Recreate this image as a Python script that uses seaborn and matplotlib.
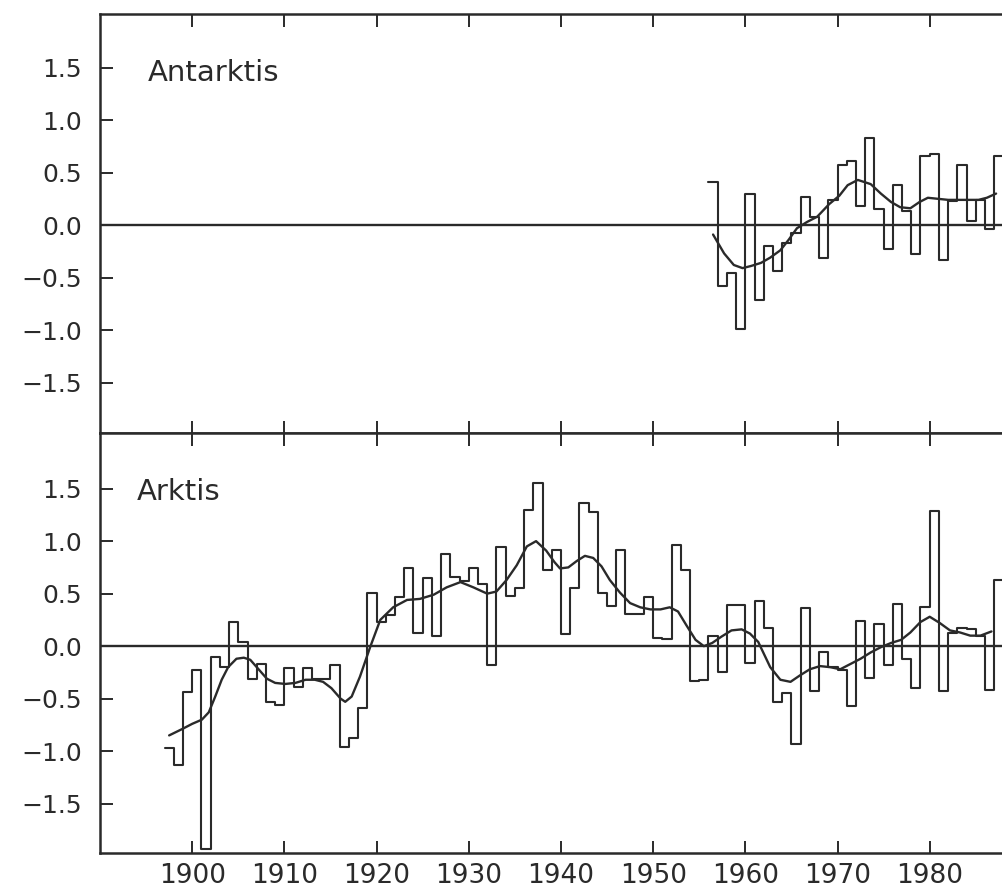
import matplotlib
matplotlib.use("Agg")
import matplotlib.pyplot as plt
import numpy as np
import pandas as pd
import seaborn as sns

# ---------------- data ----------------
ant_years = list(range(1956, 1988))
ant_values = [0.41, -0.58, -0.46, -0.99, 0.30, -0.71, -0.20, -0.44, -0.17, -0.08,
              0.27, 0.08, -0.31, 0.24, 0.57, 0.61, 0.18, 0.83, 0.15, -0.23,
              0.38, 0.13, -0.28, 0.66, 0.68, -0.33, 0.23, 0.57, 0.04, 0.24,
              -0.04, 0.66]

ant_smooth_x = [1956.5, 1957.7, 1958.75, 1959.7, 1960.6, 1961.7, 1962.7, 1963.8, 1964.7,
                1965.6, 1966.7, 1967.8, 1969.1, 1970.2, 1971.1, 1972.2, 1973.6, 1974.7,
                1975.8, 1976.8, 1977.9, 1978.9, 1979.8, 1980.9, 1982.0, 1983.1, 1984.2,
                1985.3, 1986.2, 1987.2]
ant_smooth_y = [-0.09, -0.27, -0.38, -0.41, -0.39, -0.36, -0.31, -0.24, -0.14,
                -0.03, 0.03, 0.08, 0.20, 0.28, 0.38, 0.43, 0.39, 0.30,
                0.22, 0.17, 0.16, 0.22, 0.26, 0.25, 0.24, 0.24, 0.24,
                0.24, 0.26, 0.30]

arc_years = list(range(1897, 1988))
arc_values = [-0.97, -1.13, -0.44, -0.23, -1.93, -0.10, -0.20, 0.23, 0.04, -0.31,
              -0.17, -0.53, -0.56, -0.21, -0.39, -0.21, -0.31, -0.31, -0.18, -0.96,
              -0.87, -0.59, 0.51, 0.23, 0.30, 0.47, 0.74, 0.13, 0.65, 0.10,
              0.88, 0.66, 0.62, 0.74, 0.59, -0.18, 0.94, 0.48, 0.55, 1.30,
              1.55, 0.73, 0.92, 0.12, 0.55, 1.36, 1.28, 0.51, 0.38, 0.92,
              0.31, 0.31, 0.47, 0.08, 0.07, 0.96, 0.73, -0.33, -0.32, 0.10,
              -0.25, 0.39, 0.39, -0.16, 0.43, 0.17, -0.53, -0.45, -0.93, 0.36,
              -0.43, -0.06, -0.20, -0.23, -0.57, 0.24, -0.30, 0.21, -0.18, 0.40,
              -0.12, -0.40, 0.37, 1.29, -0.43, 0.13, 0.17, 0.16, 0.10, -0.42,
              0.63]

arc_smooth_x = [1897.5, 1898.9, 1900.0, 1901.05, 1901.8, 1902.5, 1903.2, 1903.9, 1904.8,
                1905.6, 1906.3, 1907.2, 1908.1, 1909.0, 1910.1, 1911.2, 1912.3, 1913.3,
                1914.2, 1915.1, 1916.1, 1916.6, 1917.3, 1918.2, 1919.3, 1920.4, 1921.8,
                1923.3, 1924.7, 1926.2, 1927.6, 1929.1, 1930.5, 1932.0, 1933.0, 1934.1,
                1935.2, 1936.3, 1937.3, 1938.4, 1939.3, 1939.9, 1940.8, 1941.7, 1942.6,
                1943.5, 1944.4, 1945.3, 1946.4, 1947.5, 1948.6, 1949.7, 1950.8, 1951.8,
                1952.7, 1953.6, 1954.6, 1955.5, 1956.4, 1957.4, 1958.5, 1959.6, 1960.5,
                1961.4, 1962.7, 1963.8, 1964.9, 1965.9, 1967.0, 1968.1, 1969.2, 1970.3,
                1971.4, 1972.5, 1973.6, 1974.7, 1975.8, 1976.9, 1977.9, 1979.0, 1980.0,
                1981.1, 1982.2, 1983.3, 1984.4, 1985.5, 1986.7]
arc_smooth_y = [-0.85, -0.79, -0.74, -0.70, -0.63, -0.48, -0.32, -0.20, -0.12,
                -0.11, -0.13, -0.22, -0.31, -0.35, -0.36, -0.35, -0.32, -0.32,
                -0.34, -0.40, -0.50, -0.53, -0.48, -0.29, -0.01, 0.25, 0.37,
                0.44, 0.45, 0.49, 0.56, 0.61, 0.56, 0.50, 0.52, 0.63,
                0.77, 0.95, 1.00, 0.91, 0.80, 0.74, 0.75, 0.81, 0.86,
                0.84, 0.76, 0.63, 0.51, 0.41, 0.37, 0.35, 0.35, 0.37,
                0.33, 0.20, 0.06, 0.00, 0.03, 0.09, 0.15, 0.16, 0.12,
                0.04, -0.20, -0.32, -0.34, -0.28, -0.22, -0.19, -0.20, -0.22,
                -0.17, -0.12, -0.06, -0.01, 0.03, 0.06, 0.13, 0.23, 0.28,
                0.22, 0.15, 0.13, 0.10, 0.10, 0.14]

y_ticks = [-1.5, -1.0, -0.5, 0.0, 0.5, 1.0, 1.5]
y_tick_labels = ["\u22121.5", "\u22121.0", "\u22120.5", "0.0", "0.5", "1.0", "1.5"]
x_ticks = [1900, 1910, 1920, 1930, 1940, 1950, 1960, 1970, 1980]
x_tick_labels = [str(t) for t in x_ticks]
panel_labels = ["Antarktis", "Arktis"]

# ---------------- style ----------------
sns.set_style("ticks")
plt.rcParams["font.family"] = ["DejaVu Sans"]
ink = "#2a2a2a"

W, H = 1003, 892
fig = plt.figure(figsize=(W / 100, H / 100), dpi=100)
left = 100 / W
ax1 = fig.add_axes([left, 1 - 433 / H, 1 - left, (433 - 14) / H])
ax2 = fig.add_axes([left, 1 - 853 / H, 1 - left, (853 - 433) / H])

XLIM = (1890.0, 1987.95)


def draw_panel(ax, years, values, sx, sy, ylim):
    ext_x = list(years) + [years[-1] + 1]
    ext_y = list(values) + [values[-1]]
    df = pd.DataFrame({"year": ext_x, "value": ext_y})
    sns.lineplot(data=df, x="year", y="value", ax=ax, drawstyle="steps-post",
                 color=ink, lw=1.5, estimator=None, sort=False)
    ds = pd.DataFrame({"year": sx, "value": sy})
    sns.lineplot(data=ds, x="year", y="value", ax=ax, color=ink, lw=1.7,
                 estimator=None, sort=False)
    ax.axhline(0, color=ink, lw=1.7, zorder=1)
    ax.set_xlim(*XLIM)
    ax.set_ylim(*ylim)
    ax.set_xlabel("")
    ax.set_ylabel("")
    ax.set_yticks(y_ticks)
    ax.set_yticklabels(y_tick_labels, fontsize=18, color=ink)
    ax.set_xticks(x_ticks)
    ax.tick_params(axis="both", direction="in", length=9, width=1.4, colors=ink,
                   top=True, bottom=True, right=False, left=True)
    ax.tick_params(axis="y", pad=13)
    for side in ["left", "top", "bottom"]:
        ax.spines[side].set_visible(True)
        ax.spines[side].set_color(ink)
        ax.spines[side].set_linewidth(1.8)
    ax.spines["right"].set_visible(False)
    ax.set_facecolor("white")


draw_panel(ax1, ant_years, ant_values, ant_smooth_x, ant_smooth_y, (-1.98, 2.01))
draw_panel(ax2, arc_years, arc_values, arc_smooth_x, arc_smooth_y, (-1.97, 2.03))

ax1.set_xticklabels([])
ax2.set_xticklabels(x_tick_labels, fontsize=19, color=ink)
ax2.tick_params(axis="x", pad=7)

ax1.text(1895.2, 1.37, panel_labels[0], fontsize=21, color=ink, va="baseline", ha="left")
ax2.text(1894.0, 1.39, panel_labels[1], fontsize=21, color=ink, va="baseline", ha="left")

fig.savefig("out.png", dpi=100, facecolor="white")
